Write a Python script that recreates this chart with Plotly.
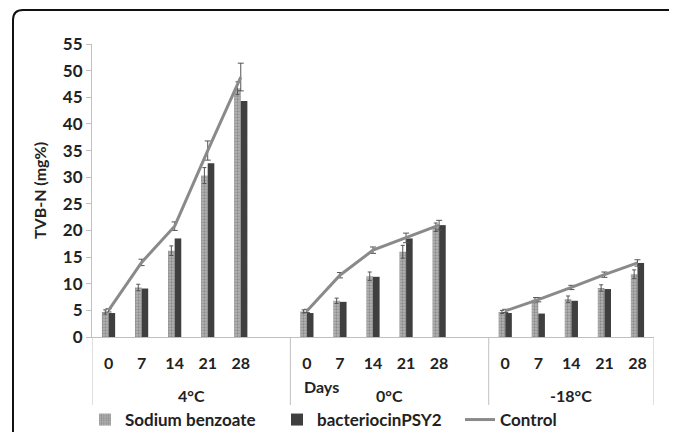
import plotly.graph_objects as go

# ---- data ----
temps = ["4°C", "0°C", "-18°C"]
days = ["0", "7", "14", "21", "28"]

sodium_4 = [4.7, 9.3, 16.2, 30.3, 46.7]
sodium_0 = [4.8, 6.8, 11.4, 16.0, 20.6]
sodium_m18 = [4.7, 7.0, 7.1, 9.2, 11.8]
sodium_err_4 = [0.4, 0.6, 0.9, 1.5, 1.2]
sodium_err_0 = [0.3, 0.5, 0.8, 1.2, 0.8]
sodium_err_m18 = [0.3, 0.4, 0.6, 0.6, 0.8]

psy2_4 = [4.5, 9.1, 18.5, 32.6, 44.3]
psy2_0 = [4.5, 6.6, 11.3, 18.5, 21.0]
psy2_m18 = [4.5, 4.4, 6.8, 9.0, 13.9]

control_4 = [5.0, 14.0, 20.8, 35.0, 48.8]
control_0 = [4.9, 11.6, 16.3, 18.6, 21.0]
control_m18 = [4.9, 7.0, 9.3, 11.7, 13.9]
control_err_4 = [0.3, 0.6, 0.8, 1.8, 2.6]
control_err_0 = [0.3, 0.5, 0.6, 0.9, 0.9]
control_err_m18 = [0.3, 0.4, 0.4, 0.5, 0.6]

# ---- category slots: 6 per group (last slot blank), last group 5 ----
slot = len(days) + 1
xpos, xlabels = [], []
def build(*series):
    out = []
    for i, s in enumerate(series):
        out += list(s)
        if i < len(series) - 1:
            out.append(None)
    return out

for i, t in enumerate(temps):
    for j, d in enumerate(days):
        xpos.append(i * slot + j)
        xlabels.append(d)
xall = list(range(len(temps) * slot - 1))

sodium = build(sodium_4, sodium_0, sodium_m18)
sodium_err = build(sodium_err_4, sodium_err_0, sodium_err_m18)
psy2 = build(psy2_4, psy2_0, psy2_m18)
control = build(control_4, control_0, control_m18)
control_err = build(control_err_4, control_err_0, control_err_m18)

# page body has an 8px margin: figure is drawn offset by 8px
OFF = 8
FW, FH = 677 - OFF, 432 - OFF
# plot area in screenshot pixels
SL, SR, ST, SB = 92, 654, 44, 337
L, R, T, B = SL - OFF, SR - OFF, ST - OFF, SB - OFF
W, H = R - L, B - T
def px(xs): return (xs - SL) / W
def py(ys): return (SB - ys) / H

FONT = "Lato"
TXT = "#222"
fig = go.Figure()
fig.add_trace(go.Bar(
    x=xall, y=sodium, name="Sodium benzoate", legend="legend",
    marker=dict(color="#b0b0b0", line=dict(width=0),
                pattern=dict(shape=".", fgcolor="#626262", bgcolor="#b4b4b4", size=3, solidity=0.45)),
    error_y=dict(type="data", array=sodium_err, color="#555", thickness=1, width=2),
))
fig.add_trace(go.Bar(
    x=xall, y=psy2, name="bacteriocinPSY2", legend="legend2",
    marker=dict(color="#3f3f3f", line=dict(width=0)),
))
fig.add_trace(go.Scatter(
    x=xall, y=control, name="Control", mode="lines", legend="legend3",
    line=dict(color="#8a8a8a", width=3),
    connectgaps=False,
    error_y=dict(type="data", array=control_err, color="#555", thickness=1, width=3),
))

# group dividers and group labels (in data x units)
nslots = len(xall)
for i, t in enumerate(temps):
    start = i * slot - 0.5
    end = min((i + 1) * slot, nslots) - 0.5
    fig.add_annotation(text=t, xref="x", yref="paper", x=(start + end) / 2, y=py(395),
                       xanchor="center", yanchor="middle", showarrow=False,
                       font=dict(family=FONT, size=16, color=TXT, weight="bold"))
    for xb in ([start, end] if i == 0 else [end]):
        fig.add_shape(type="line", xref="x", yref="paper", x0=xb, x1=xb, y0=0, y1=py(405),
                      line=dict(color="#c0c0c0", width=1))

# frame with rounded top-left corner (paper coords)
path = (f"M {px(13)} {py(440)} L {px(13)} {py(20)} "
        f"Q {px(13)} {py(10)} {px(23)} {py(10)} L {px(690)} {py(10)}")
fig.add_shape(type="path", path=path, xref="paper", yref="paper",
              line=dict(color="#111", width=2))

fig.add_annotation(text="Days", xref="paper", yref="paper",
                   x=px(302), y=py(386), xanchor="left", yanchor="middle",
                   showarrow=False, font=dict(family=FONT, size=16, color=TXT, weight="bold"))

def leg(xs):
    return dict(orientation="h", xref="container", yref="container",
                x=(xs - OFF) / FW, xanchor="left", y=1 - (420 - OFF) / FH, yanchor="middle",
                font=dict(family=FONT, size=17, color=TXT, weight="bold"),
                itemwidth=30, bgcolor="rgba(0,0,0,0)")

fig.update_layout(
    width=FW, height=FH,
    margin=dict(l=L, r=FW - R, t=T, b=FH - B),
    paper_bgcolor="white", plot_bgcolor="white",
    barmode="group", bargap=0.6, bargroupgap=0,
    showlegend=True,
    legend=leg(85), legend2=leg(277), legend3=leg(460),
    font=dict(family=FONT, color=TXT),
)
fig.update_xaxes(
    range=[-0.5, nslots - 0.5], automargin=False,
    tickmode="array", tickvals=xpos, ticktext=xlabels,
    showline=True, linecolor="#c0c0c0", linewidth=1,
    showgrid=False, zeroline=False, ticks="", ticklabelstandoff=12,
    tickfont=dict(family=FONT, size=16, color=TXT, weight="bold"),
)
fig.update_yaxes(
    range=[0, 55], dtick=5, automargin=False,
    showline=True, linecolor="#c0c0c0", linewidth=1,
    showgrid=False, zeroline=False, ticks="outside", ticklen=5, tickcolor="#c0c0c0",
    tickfont=dict(family=FONT, size=17, color=TXT, weight="bold"),
    title=dict(text="TVB-N (mg%)", font=dict(family=FONT, size=16, color=TXT, weight="bold"), standoff=12),
)

fig.write_html("out.html")
